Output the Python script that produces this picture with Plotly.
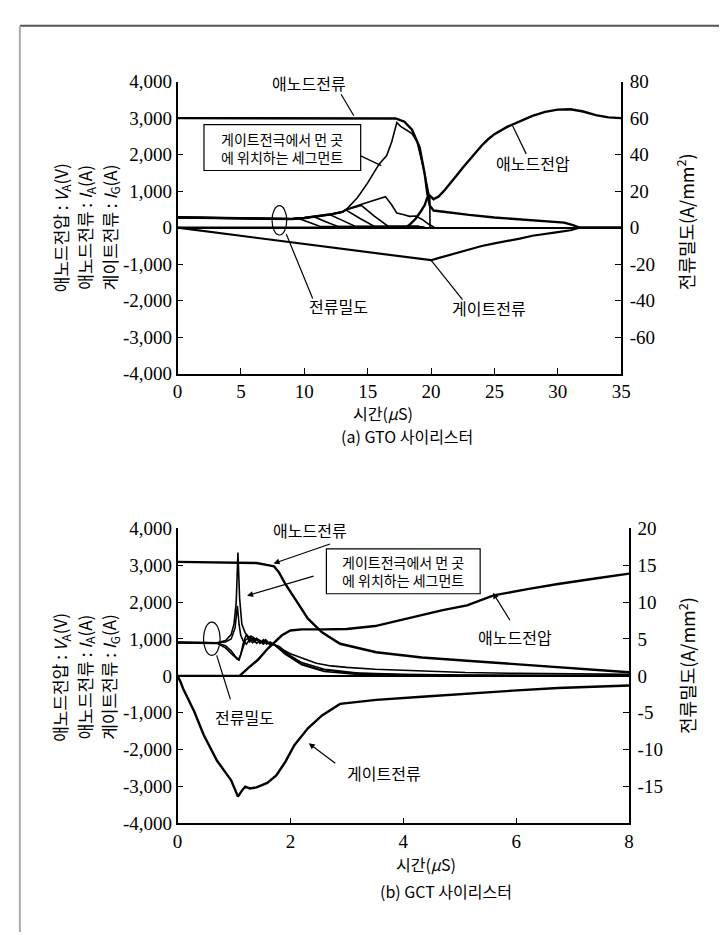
import plotly.graph_objects as go

# ---------------- DATA: (a) GTO thyristor ----------------
gto_ticks_x = [0, 5, 10, 15, 20, 25, 30, 35]
left_ticks = [-4000, -3000, -2000, -1000, 0, 1000, 2000, 3000, 4000]
left_ticktext = ["-4,000", "-3,000", "-2,000", "-1,000", "0", "1,000", "2,000", "3,000", "4,000"]
gto_right_ticks = [-80, -60, -40, -20, 0, 20, 40, 60, 80]
gto_right_text = ["", "-60", "-40", "-20", "0", "20", "40", "60", "80"]

gto_ia_t = [0, 8, 16, 17.2, 17.9, 18.5, 19.1, 19.5, 19.7, 19.9, 20.2, 21, 22, 23, 25, 27, 29, 30.5, 31.2, 31.7, 35]
gto_ia = [3000, 3000, 3000, 2990, 2900, 2680, 2200, 1470, 940, 600, 470, 430, 400, 350, 280, 230, 180, 140, 70, 0, 0]

gto_va_t = [0, 18, 18.3, 18.8, 19.2, 19.5, 19.7, 19.9, 20.2, 20.6, 21, 21.5, 22, 22.5, 23, 23.5, 24, 24.5, 25, 26, 27, 28, 29, 30, 31, 32, 33, 34, 35]
gto_va = [0, 0, 80, 250, 450, 620, 820, 880, 780, 850, 1000, 1200, 1420, 1640, 1850, 2060, 2250, 2420, 2560, 2760, 2920, 3060, 3170, 3230, 3240, 3180, 3080, 3020, 3000]

gto_ig_t = [0, 20, 20.5, 21, 22, 23, 24, 25, 26, 27, 28, 29, 30, 31, 31.7, 35]
gto_ig = [0, -890, -840, -790, -700, -590, -500, -430, -370, -300, -220, -160, -120, -70, 0, 0]

# current density of segments (A/mm^2)
gto_far_t = [0, 4, 8, 9, 10, 11, 12, 13, 13.4, 14.2, 15.0, 15.9, 16.5, 16.9, 17.3, 17.6, 18.0, 18.5, 18.9, 19.2, 19.5, 19.75, 19.9, 19.92, 35]
gto_far = [5.9, 5.4, 4.9, 5.0, 5.6, 6.4, 7.4, 8.8, 10.6, 16.5, 24.5, 34.8, 39.5, 47, 57.5, 55.5, 53.5, 51.5, 47, 39, 29.5, 21, 16, 0, 0]

gto_s2_t = [0, 4, 8, 9, 10, 11, 12, 13, 13.4, 14.4, 15.4, 16.4, 16.9, 17.3, 17.8, 18.3, 18.8, 19.3, 19.8, 20.3, 35]
gto_s2 = [5.8, 5.3, 4.8, 4.9, 5.5, 6.3, 7.3, 8.7, 10.3, 12.6, 14.8, 17, 12.4, 8, 7.2, 6.2, 6.4, 4.5, 2, 0, 0]

gto_sa_t = [0, 4, 8, 9, 9.5, 10.3, 11.2, 19, 19.5]
gto_sa = [5.7, 5.2, 4.7, 4.9, 5.2, 3.0, 0.8, 0.6, 0]
gto_sb_t = [0, 4, 8, 9, 10, 10.8, 11.7, 12.6, 19, 19.5]
gto_sb = [5.6, 5.1, 4.6, 4.8, 5.4, 5.9, 3.3, 0.8, 0.6, 0]
gto_sc_t = [0, 4, 8, 9, 10, 11, 12, 13, 14, 19, 19.5]
gto_sc = [5.5, 5.0, 4.5, 4.7, 5.3, 6.2, 7.2, 4.0, 0.8, 0.6, 0]
gto_sd_t = [0, 4, 8, 9, 10, 11, 12, 13, 13.3, 14.4, 15.5, 19, 19.5]
gto_sd = [5.4, 4.9, 4.4, 4.6, 5.2, 6.1, 7.1, 8.5, 9.6, 5.0, 0.8, 0.6, 0]
gto_se_t = [0, 4, 8, 9, 10, 11, 12, 13, 13.4, 14.5, 15.5, 16.6, 19, 19.6]
gto_se = [5.3, 4.8, 4.3, 4.5, 5.1, 6.0, 7.0, 8.4, 10.0, 12.2, 6.5, 0.8, 0.6, 0]

# ---------------- DATA: (b) GCT thyristor ----------------
gct_ticks_x = [0, 2, 4, 6, 8]
gct_right_ticks = [-20, -15, -10, -5, 0, 5, 10, 15, 20]
gct_right_text = ["", "-15", "-10", "-5", "0", "5", "10", "15", "20"]

gct_ia_t = [0, 0.5, 1.0, 1.4, 1.6, 1.71, 1.8, 1.91, 2.12, 2.31, 2.56, 2.88, 3.52, 4.33, 5.13, 5.94, 6.74, 7.38, 8]
gct_ia = [3090, 3080, 3070, 3060, 3000, 2970, 2800, 2490, 2000, 1550, 1180, 870, 640, 500, 410, 320, 230, 150, 100]

gct_va_t = [0, 1.1, 1.25, 1.42, 1.6, 1.71, 1.85, 2.0, 2.2, 2.6, 3.0, 3.5, 4.0, 4.33, 4.7, 5.13, 5.6, 6.2, 6.74, 7.4, 8]
gct_va = [0, 0, 210, 430, 740, 900, 1100, 1230, 1260, 1260, 1270, 1350, 1530, 1650, 1780, 1910, 2180, 2350, 2490, 2640, 2770]

gct_ig_t = [0, 0.05, 0.1, 0.3, 0.46, 0.7, 0.95, 1.07, 1.15, 1.2, 1.28, 1.4, 1.59, 1.75, 1.91, 2.07, 2.31, 2.56, 2.88, 3.52, 4.33, 5.13, 5.94, 6.74, 8]
gct_ig = [0, -150, -350, -980, -1590, -2300, -2830, -3270, -3090, -3000, -3050, -3020, -2900, -2700, -2330, -1880, -1420, -1070, -760, -650, -565, -480, -400, -330, -260]

gct_far_t = [0, 0.4, 0.7, 0.85, 0.95, 1.0, 1.04, 1.07, 1.1, 1.14, 1.2, 1.27, 1.33, 1.4, 1.46, 1.52, 1.58, 1.64, 1.71, 1.8, 1.9, 2.0, 2.17, 2.46, 2.72, 3.0, 3.5, 4.3, 5.1, 6, 7, 8]
gct_far = [4.6, 4.55, 4.5, 4.8, 5.6, 7, 10, 16.7, 10.5, 7, 5.8, 5.2, 4.5, 5.1, 4.4, 4.9, 4.3, 4.6, 4.25, 4.0, 3.4, 3.0, 2.5, 1.7, 1.35, 1.15, 0.9, 0.65, 0.45, 0.35, 0.25, 0.2]

gct_s2_t = [0, 0.4, 0.7, 0.85, 0.95, 1.02, 1.08, 1.12, 1.17, 1.22, 1.28, 1.34, 1.4, 1.46, 1.52, 1.58, 1.64, 1.71, 1.85, 2.0, 2.2, 2.5, 3.0, 3.5, 4, 5, 6, 8]
gct_s2 = [4.5, 4.48, 4.45, 4.1, 3.4, 2.7, 2.2, 2.9, 4.6, 5.6, 4.6, 5.1, 4.4, 4.8, 4.3, 4.7, 4.2, 4.25, 3.6, 2.6, 1.6, 0.9, 0.45, 0.25, 0.15, 0.08, 0.05, 0.03]

gct_s3_t = [0, 0.4, 0.7, 0.85, 0.95, 1.02, 1.06, 1.09, 1.12, 1.16, 1.22, 1.3, 1.36, 1.42, 1.5, 1.56, 1.62, 1.71, 1.9, 2.2, 2.6, 3.2, 4, 5, 6, 7, 8]
gct_s3 = [4.55, 4.52, 4.5, 4.6, 5.0, 6.5, 9.5, 7, 5.5, 4.8, 4.3, 5.2, 4.6, 5.0, 4.5, 4.9, 4.4, 4.25, 3.2, 1.8, 0.9, 0.4, 0.2, 0.1, 0.05, 0.03, 0.0]

gct_s4_t = [0, 0.7, 0.85, 0.95, 1.05, 1.09, 1.13, 1.2, 1.3, 1.45, 1.6, 1.71, 1.9, 2.2, 2.6, 3.2, 4, 8]
gct_s4 = [4.45, 4.4, 3.8, 3.0, 2.3, 2.15, 3.2, 4.8, 5.4, 4.7, 4.5, 4.25, 3.0, 1.5, 0.6, 0.2, 0.05, 0]

# ---------------- FIGURE ----------------
W, H = 727, 935
SERIF = "Liberation Serif, Times New Roman, Times, DejaVu Serif, serif"
KR = "Noto Sans CJK KR"


def PX(x):
    return x / W


def PY(y):
    return 1 - y / H


fig = go.Figure()


def line(xs, ys, xa, ya, w=2.0):
    fig.add_trace(go.Scatter(x=xs, y=ys, mode="lines", xaxis=xa, yaxis=ya,
                             line=dict(color="black", width=w), hoverinfo="skip"))


# GTO densities
for tt, vv in [(gto_sa_t, gto_sa), (gto_sb_t, gto_sb), (gto_sc_t, gto_sc),
               (gto_sd_t, gto_sd), (gto_se_t, gto_se), (gto_s2_t, gto_s2), (gto_far_t, gto_far)]:
    line(tt, vv, "x", "y2", 1.6)
line(gto_ig_t, gto_ig, "x", "y", 2.2)
line(gto_ia_t, gto_ia, "x", "y", 2.4)
line(gto_va_t, gto_va, "x", "y", 2.4)

# GCT densities
for tt, vv in [(gct_s4_t, gct_s4), (gct_s3_t, gct_s3), (gct_s2_t, gct_s2), (gct_far_t, gct_far)]:
    line(tt, vv, "x2", "y4", 1.6)
line(gct_ig_t, gct_ig, "x2", "y3", 2.4)
line(gct_ia_t, gct_ia, "x2", "y3", 2.4)
line(gct_va_t, gct_va, "x2", "y3", 2.4)

tickfont = dict(family=SERIF, size=19, color="black")
axis_common = dict(showline=True, linecolor="black", linewidth=1.5, ticks="inside",
                   ticklen=6, tickwidth=1.2, tickcolor="black", showgrid=False,
                   tickfont=tickfont)

fig.update_layout(
    width=W, height=H, margin=dict(l=0, r=0, t=0, b=0),
    paper_bgcolor="white", plot_bgcolor="rgba(0,0,0,0)", showlegend=False,
    font=dict(family=SERIF, size=18, color="black"),
    xaxis=dict(domain=[PX(168), PX(621)], range=[0, 35], tickvals=gto_ticks_x,
               anchor="y", zeroline=False, **axis_common),
    yaxis=dict(domain=[PY(364), PY(65)], range=[-4000, 4000], tickvals=left_ticks,
               ticktext=left_ticktext, anchor="x", zeroline=True, zerolinecolor="black",
               zerolinewidth=1.6, **axis_common),
    yaxis2=dict(overlaying="y", side="right", anchor="x", range=[-80, 80],
                tickvals=gto_right_ticks, ticktext=gto_right_text, zeroline=False,
                ticklabelstandoff=3, **axis_common),
    xaxis2=dict(domain=[PX(168), PX(629)], range=[0, 8], tickvals=gct_ticks_x,
                anchor="y3", zeroline=False, **axis_common),
    yaxis3=dict(domain=[PY(824), PY(522)], range=[-4000, 4000], tickvals=left_ticks,
                ticktext=left_ticktext, anchor="x2", zeroline=True, zerolinecolor="black",
                zerolinewidth=1.6, **axis_common),
    yaxis4=dict(overlaying="y3", side="right", anchor="x2", range=[-20, 20],
                tickvals=gct_right_ticks, ticktext=gct_right_text, zeroline=False,
                ticklabelstandoff=3, **axis_common),
)

shapes = []
annotations = []


def seg(x0, y0, x1, y1, w=1.2, color="black"):
    shapes.append(dict(type="line", xref="paper", yref="paper", x0=PX(x0), y0=PY(y0),
                       x1=PX(x1), y1=PY(y1), line=dict(color=color, width=w)))


def ellipse(cx, cy, rx, ry):
    shapes.append(dict(type="circle", xref="paper", yref="paper", x0=PX(cx - rx), x1=PX(cx + rx),
                       y0=PY(cy + ry), y1=PY(cy - ry), line=dict(color="black", width=1.2)))


def box(x0, y0, x1, y1):
    shapes.append(dict(type="rect", xref="paper", yref="paper", x0=PX(x0), x1=PX(x1),
                       y0=PY(y1), y1=PY(y0), line=dict(color="black", width=1.2),
                       fillcolor="white", layer="above"))


def text(x, y, s, size=16, family=KR, angle=0, xanchor="center"):
    annotations.append(dict(x=PX(x), y=PY(y), xref="paper", yref="paper", text=s,
                            showarrow=False, font=dict(family=family, size=size, color="black"),
                            textangle=angle, xanchor=xanchor, yanchor="middle"))


def arrow(hx, hy, tx, ty):
    annotations.append(dict(x=PX(hx), y=PY(hy), xref="paper", yref="paper", text="",
                            showarrow=True, ax=tx - hx, ay=ty - hy, arrowhead=2,
                            arrowsize=1, arrowwidth=1.2, arrowcolor="black"))


# page border
seg(7, 8, 727, 8, 2, "#555555")
seg(7, 8, 7, 935, 2, "#aaaaaa")

# ---- (a) labels ----
text(302, 67, "애노드전류")
seg(335, 78, 348, 100)
box(195, 109, 355, 156)
text(275, 132.5, "게이트전극에서 먼 곳<br>에 위치하는 세그먼트", size=14)
seg(355, 141, 376, 151)
text(531, 148, "애노드전압")
seg(524, 139, 510, 110)
ellipse(272, 207, 7.5, 15)
seg(279, 221, 306, 287)
text(332, 295, "전류밀도")
text(486, 297, "게이트전류")
seg(459, 288, 427, 248)

# ---- (b) labels ----
text(303, 524, "애노드전류")
arrow(266, 558, 324, 538)
box(320, 543, 477, 589)
text(398.5, 566, "게이트전극에서 먼 곳<br>에 위치하는 세그먼트", size=14)
arrow(239, 591, 307, 571)
text(513, 633, "애노드전압")
arrow(490, 588, 508, 617)
ellipse(203, 635, 8.5, 17)
seg(208, 652, 222, 697)
text(236, 715, "전류밀도")
text(379, 772, "게이트전류")
arrow(302, 742, 330, 763)

# axis titles
left_titles = ["애노드전압 : <i>V</i><sub>A</sub>(V)",
               "애노드전류 : <i>I</i><sub>A</sub>(A)",
               "게이트전류 : <i>I</i><sub>G</sub>(A)"]
for cx, s in zip([49, 74, 99], left_titles):
    text(cx, 214, s, size=17, family=KR, angle=-90)
    text(cx, 674, s, size=17, family=KR, angle=-90)
text(687, 208, "전류밀도(A/mm<sup>2</sup>)", size=18, angle=-90)
text(688, 662, "전류밀도(A/mm<sup>2</sup>)", size=18, angle=-90)
text(378, 404, "시간(<i>μ</i>S)", size=16)
text(402, 428, "(a) GTO 사이리스터", size=16)
text(422, 865, "시간(<i>μ</i>S)", size=16)
text(442, 893, "(b) GCT 사이리스터", size=16)

fig.update_layout(shapes=shapes, annotations=annotations)
fig.write_html("out.html")
